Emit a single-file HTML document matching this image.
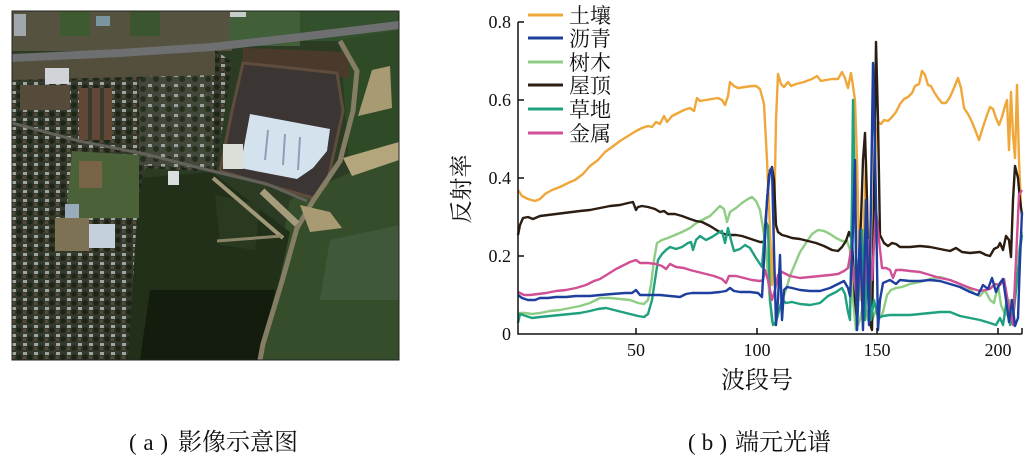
<!DOCTYPE html>
<html><head><meta charset="utf-8"><style>
html,body{margin:0;padding:0;background:#fff;}
svg{display:block;}
.tk{font-family:"Liberation Serif",serif;font-size:18px;fill:#111;}
.cj{font-family:"Liberation Serif","Noto Serif CJK SC","Noto Sans CJK SC",serif;fill:#111;}
</style></head><body>
<svg width="1033" height="461" viewBox="0 0 1033 461" xmlns="http://www.w3.org/2000/svg">
<defs>
<clipPath id="imgc"><rect x="12" y="11" width="387" height="349"/></clipPath>
<pattern id="houses" x="0" y="0" width="11" height="9" patternUnits="userSpaceOnUse">
<rect width="11" height="9" fill="#353a2c"/>
<rect x="1" y="1" width="4" height="3" fill="#9ea6a2"/>
<circle cx="8" cy="6" r="2.8" fill="#1c2617"/>
<rect x="1" y="5" width="3" height="3" fill="#55493a"/>
</pattern>
<pattern id="houses2" x="3" y="2" width="13" height="10" patternUnits="userSpaceOnUse">
<rect width="13" height="10" fill="#44483a"/>
<rect x="2" y="2" width="4" height="3" fill="#9aa49f"/>
<circle cx="10" cy="7" r="3" fill="#24301c"/>
</pattern>
</defs>

<!-- (a) aerial image -->
<g clip-path="url(#imgc)">
<rect x="12" y="11" width="387" height="349" fill="#2c3c24"/>
<rect x="12" y="11" width="220" height="40" fill="#565240"/>
<rect x="60" y="11" width="30" height="25" fill="#3e5a30"/>
<rect x="130" y="11" width="30" height="25" fill="#3a5530"/>
<rect x="14" y="14" width="12" height="22" fill="#a0a8ac"/>
<rect x="96" y="16" width="14" height="10" fill="#7a94a0"/>
<rect x="230" y="11" width="70" height="35" fill="#41603a"/>
<rect x="300" y="11" width="99" height="30" fill="#33502c"/>
<rect x="230" y="12" width="16" height="5" fill="#c8ccc8"/>
<polygon points="290,200 399,150 399,360 260,360" fill="#354d2a"/>
<polygon points="330,240 399,225 399,300 320,300" fill="#41573a"/>
<polygon points="340,40 399,30 399,150 350,175" fill="#2f4a27"/>
<polygon points="139,178 212,172 290,232 275,300 262,360 128,360" fill="#22301a"/>
<polygon points="150,290 275,290 262,360 140,360" fill="#141c0e"/>
<polygon points="215,195 260,205 255,250 220,245" fill="#2a3a20"/>
<polygon points="12,62 120,56 215,50 232,62 216,172 145,168 138,200 128,360 12,360" fill="url(#houses)"/>
<polygon points="139,78 212,70 212,170 139,165" fill="url(#houses2)"/>
<polygon points="12,62 120,56 215,50 215,75 12,80" fill="#544e3c"/>
<rect x="45" y="68" width="24" height="16" fill="#d0d4d8"/>
<rect x="79" y="88" width="33" height="52" fill="#624636"/>
<rect x="88" y="88" width="4" height="52" fill="#3a3a2c"/>
<rect x="100" y="88" width="4" height="52" fill="#3a3a2c"/>
<rect x="20" y="85" width="50" height="25" fill="#564a3a"/>
<polygon points="72,151 139,155 139,218 66,218" fill="#4b6238"/>
<rect x="79" y="161" width="23" height="27" fill="#7a6448"/>
<rect x="55" y="218" width="34" height="33" fill="#7d7254"/>
<rect x="89" y="224" width="26" height="24" fill="#c4d0dc"/>
<rect x="65" y="204" width="14" height="14" fill="#98acbc"/>
<rect x="168" y="171" width="11" height="14" fill="#d8dde0"/>
<polygon points="243,48 347,52 350,78 243,66" fill="#4a3a2c"/>
<polygon points="243,63 337,73 343,111 327,184 313,198 220,171 232,111" fill="#3b3534" stroke="#5e4c3c" stroke-width="3"/>
<polygon points="250,114 330,129 327,151 313,168 297,179 240,168 245,141" fill="#d4e2ee"/>
<line x1="268" y1="130" x2="265" y2="160" stroke="#8aa0b8" stroke-width="2"/>
<line x1="285" y1="134" x2="283" y2="165" stroke="#8aa0b8" stroke-width="2"/>
<line x1="300" y1="137" x2="298" y2="170" stroke="#8aa0b8" stroke-width="2"/>
<rect x="223" y="144" width="20" height="25" fill="#dcdfd8"/>
<polyline points="12,58 120,53 212,47 300,37 399,25" fill="none" stroke="#6e6f70" stroke-width="8"/>
<polyline points="12,123 79,141 145,154 212,171 267,184 307,201" fill="none" stroke="#62625a" stroke-width="3"/>
<polyline points="340,41 357,71 353,111 340,161 313,201 297,228 283,278 263,344 260,360" fill="none" stroke="#857d64" stroke-width="5"/>
<polygon points="343,158 399,142 399,160 352,176" fill="#b3a57c"/>
<polygon points="372,70 390,66 392,108 358,116" fill="#a89b74"/>
<polygon points="300,205 330,212 342,228 310,232" fill="#a89a72"/>
<line x1="213" y1="178" x2="283" y2="238" stroke="#a09878" stroke-width="4"/>
<line x1="262" y1="191" x2="297" y2="224" stroke="#a49c7c" stroke-width="7"/>
<line x1="217" y1="241" x2="282" y2="236" stroke="#8c8468" stroke-width="3"/>
</g>
<rect x="12" y="11" width="387" height="349" fill="none" stroke="#222" stroke-width="1"/>

<!-- (b) chart -->
<g fill="none" stroke-width="2.4" stroke-linejoin="round">
<polyline stroke="#f0a73a" points="518,190 522,196 528,199 535,201 540,199 545,194 552,190 560,187 568,183 575,180 583,174 590,166 598,160 605,152 612,147 620,141 628,136 636,131 642,128 648,126 652,127 656,122 660,124 664,116 667,122 672,116 678,113 684,110 690,108 694,111 697,98 700,101 706,100 712,99 718,98 722,100 725,105 728,96 730,82 734,86 738,88 745,87 752,86 756,86 760,89 764,104 767,160 770,230 772,285 774,230 776,120 778,74 781,84 784,87 788,82 791,86 796,84 804,82 812,79 817,76 821,81 826,80 832,79 838,79 842,72 845,78 848,88 851,73 853,86 855,100 857,160 859,250 861,300 864,220 866,160 868,250 871,310 874,200 876,140 878,122 881,124 884,120 888,121 892,117 896,112 900,104 904,99 908,97 912,93 915,86 919,84 922,71 925,75 928,85 931,86 934,92 938,98 942,103 946,103 950,97 954,88 958,78 961,88 964,108 968,114 972,122 976,132 979,140 983,127 987,115 990,107 993,109 996,118 999,125 1002,117 1005,106 1007,100 1009,150 1011,92 1013,135 1015,158 1017,85 1019,160 1021,205"/>
<polyline stroke="#8fcd84" points="518,313 525,313 532,314 540,313 550,311 560,310 570,308 580,306 590,303 600,298 610,298 620,299 630,300 638,303 644,304 648,300 651,285 654,260 657,243 662,240 668,238 675,235 682,232 690,228 695,224 700,221 706,218 710,216 714,212 720,206 724,209 727,222 730,212 736,208 742,203 748,199 752,197 756,201 760,210 763,228 766,250 769,290 772,322 775,325 778,315 782,300 786,290 790,276 795,264 800,252 806,243 812,234 818,230 824,231 830,234 836,238 842,241 847,241 850,250 853,300 856,330 860,320 864,300 868,320 872,320 876,310 880,318 883,312 887,295 891,290 896,288 902,287 910,284 920,282 930,279 940,277 950,280 960,284 968,288 975,294 980,296 985,290 990,300 994,303 998,285 1001,305 1004,312 1007,315 1010,300 1013,325 1016,262 1019,250 1022,232"/>
<polyline stroke="#2b1d12" points="518,235 520,225 523,218 528,217 533,219 540,216 548,215 556,214 564,213 572,212 580,211 590,210 600,208 610,206 620,205 628,203 633,202 636,210 638,207 642,206 648,207 655,209 660,212 664,211 668,214 675,214 682,216 690,219 696,221 702,222 710,226 718,231 724,234 730,235 736,235 742,236 748,238 754,240 760,242 764,242 766,215 769,175 772,167 774,180 776,225 778,232 782,235 786,236 792,238 800,239 808,241 816,243 824,246 832,250 838,251 842,247 846,241 849,232 852,240 855,300 857,320 859,260 861,220 863,160 865,133 867,200 869,320 872,330 874,200 876,42 878,120 880,235 884,243 888,246 892,243 896,244 900,247 910,247 920,246 930,247 940,249 950,251 956,248 962,252 970,253 980,252 986,255 990,256 994,249 998,247 1000,243 1003,250 1006,236 1009,240 1011,257 1013,200 1015,166 1018,178 1020,200 1022,215"/>
<polyline stroke="#1fa07f" points="518,323 520,314 526,316 532,318 540,317 550,316 560,315 570,314 580,313 590,311 598,309 606,308 614,310 622,312 630,314 638,316 644,317 648,314 652,300 655,280 658,260 662,254 666,250 670,247 676,249 682,247 688,243 691,242 693,250 696,240 700,236 706,240 712,237 718,233 722,231 725,243 728,228 731,240 734,251 740,249 745,245 750,248 756,258 762,267 764,240 766,222 768,226 770,300 773,325 776,322 779,310 782,300 786,303 792,302 800,304 810,305 820,303 828,296 836,292 842,288 845,294 848,312 850,320 852,200 853,100 855,200 857,330 860,260 862,230 865,320 868,250 871,320 874,300 878,318 883,316 890,315 900,315 910,315 920,314 930,313 940,312 950,312 960,316 970,318 980,320 990,323 996,325 1000,318 1003,325 1007,298 1010,325 1014,310 1017,280 1020,250 1022,235"/>
<polyline stroke="#d14f95" points="518,292 524,295 530,295 538,294 546,293 556,291 566,290 576,288 586,285 594,281 600,279 608,274 616,269 624,265 630,262 636,260 640,263 648,263 656,264 662,266 666,269 670,264 676,267 684,268 690,270 698,272 706,274 714,276 722,279 726,283 729,276 736,276 744,278 752,280 760,281 763,280 765,270 768,280 772,300 775,290 778,275 782,272 790,276 800,278 810,277 820,276 830,275 838,274 844,271 848,268 851,250 854,280 857,300 860,270 864,290 868,240 872,280 876,210 879,240 882,268 886,268 890,270 893,278 896,270 902,270 910,271 920,272 930,275 940,278 950,280 960,284 970,288 980,291 990,289 995,284 1000,285 1004,279 1008,302 1011,315 1013,325 1016,260 1019,195 1022,190"/>
<polyline stroke="#1e3f9e" points="518,295 522,298 528,300 535,300 540,298 548,298 556,297 566,297 576,296 590,296 600,295 612,294 625,293 632,293 636,290 640,295 650,295 660,295 670,296 680,297 686,294 692,293 700,293 710,293 720,292 726,291 730,288 734,291 740,292 750,292 758,293 762,297 764,260 767,200 770,170 772,168 774,250 776,325 778,300 780,255 782,320 784,290 787,287 792,288 800,290 810,291 820,291 830,288 838,284 844,281 848,288 850,296 852,260 855,160 857,330 860,230 863,330 866,200 869,325 871,200 873,63 876,200 878,330 880,300 883,283 890,280 896,284 900,280 910,281 920,281 930,280 940,281 950,284 960,287 970,292 978,295 983,285 988,289 992,278 996,292 1000,283 1003,279 1006,300 1009,322 1012,300 1015,326 1018,318 1020,260 1022,212"/>
</g>

<path d="M518,22 V334 H1022" fill="none" stroke="#111" stroke-width="1.5"/>
<g stroke="#111" stroke-width="1.5">
<line x1="518" y1="22" x2="524" y2="22"/>
<line x1="518" y1="100" x2="524" y2="100"/>
<line x1="518" y1="178" x2="524" y2="178"/>
<line x1="518" y1="256" x2="524" y2="256"/>
<line x1="636" y1="334" x2="636" y2="328"/>
<line x1="757" y1="334" x2="757" y2="328"/>
<line x1="877" y1="334" x2="877" y2="328"/>
<line x1="998" y1="334" x2="998" y2="328"/>
<line x1="1022" y1="334" x2="1022" y2="328"/>
</g>
<g class="tk" text-anchor="end">
<text x="511" y="28">0.8</text>
<text x="511" y="106">0.6</text>
<text x="511" y="184">0.4</text>
<text x="511" y="262">0.2</text>
<text x="511" y="340">0</text>
</g>
<g class="tk" text-anchor="middle">
<text x="636" y="356">50</text>
<text x="757" y="356">100</text>
<text x="877" y="356">150</text>
<text x="998" y="356">200</text>
</g>
<text class="cj" x="757" y="388" font-size="24" text-anchor="middle">波段号</text>
<text class="cj" x="469" y="189" font-size="23" text-anchor="middle" transform="rotate(-90 469 189)">反射率</text>

<g stroke-width="3">
<line x1="528" y1="15" x2="563" y2="15" stroke="#f0a73a"/>
<line x1="528" y1="38" x2="563" y2="38" stroke="#1e3f9e"/>
<line x1="528" y1="62" x2="563" y2="62" stroke="#8fcd84"/>
<line x1="528" y1="85" x2="563" y2="85" stroke="#2b1d12"/>
<line x1="528" y1="109" x2="563" y2="109" stroke="#1fa07f"/>
<line x1="528" y1="133" x2="563" y2="133" stroke="#d14f95"/>
</g>
<g class="cj" font-size="21">
<text x="569" y="23">土壤</text>
<text x="569" y="46">沥青</text>
<text x="569" y="70">树木</text>
<text x="569" y="93">屋顶</text>
<text x="569" y="117">草地</text>
<text x="569" y="141">金属</text>
</g>

<text class="cj" x="129" y="450" font-size="23" textLength="39" lengthAdjust="spacing">(a)</text>
<text class="cj" x="178" y="450" font-size="24">影像示意图</text>
<text class="cj" x="688" y="450" font-size="23" textLength="39" lengthAdjust="spacing">(b)</text>
<text class="cj" x="735" y="450" font-size="24">端元光谱</text>
</svg>
</body></html>
